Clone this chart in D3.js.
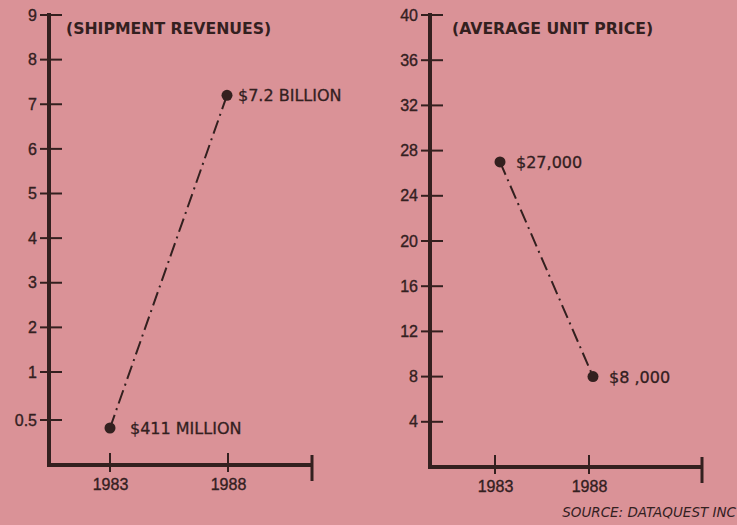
<!DOCTYPE html>
<html>
<head>
<meta charset="utf-8">
<script src="https://cdn.jsdelivr.net/npm/d3@7"></script>
<style>
  html, body { margin: 0; padding: 0; background: #da9297; }
  svg { display: block; }
  text { font-family: "DejaVu Sans", "Liberation Sans", Arial, sans-serif; fill: #33201f; }
</style>
</head>
<body>
<svg id="chart" width="737" height="525"></svg>
<script>
// Shipment revenues (billions of dollars) and average unit price (thousands of dollars)
const years = [1983, 1988];
const revenues = [0.411, 7.2];
const revenueLabels = ["$411 MILLION", "$7.2 BILLION"];
const prices = [27, 8];
const priceLabels = ["$27,000", "$8 ,000"];
const revenueTicks = [0.5, 1, 2, 3, 4, 5, 6, 7, 8, 9];
const priceTicks = [4, 8, 12, 16, 20, 24, 28, 32, 36, 40];

const ink = "#33201f";
const svg = d3.select("#chart");

function styleTickText(sel, size) {
  sel.style("font-size", size + "px")
    .style("font-family", "'Liberation Sans', Arial, sans-serif")
    .attr("fill", ink).attr("stroke", ink).attr("stroke-width", 0.35);
}

function panel(opts) {
  const g = svg.append("g");
  const x = d3.scaleLinear().domain(years).range(opts.xYears);
  const y = opts.y;

  // Vertical axis
  const yAxis = d3.axisLeft(y).tickValues(opts.ticks).tickSize(0).tickPadding(12)
    .tickFormat(d => String(d));
  const ya = g.append("g").attr("transform", `translate(${opts.x0},0)`).call(yAxis);
  ya.select(".domain").remove();
  styleTickText(ya.selectAll("text"), 16);
  g.append("line").attr("x1", opts.x0).attr("x2", opts.x0)
    .attr("y1", opts.yTop).attr("y2", opts.yBase + 2)
    .attr("stroke", ink).attr("stroke-width", 4);
  g.selectAll("line.ytick").data(opts.ticks).join("line").attr("class", "ytick")
    .attr("x1", opts.x0 - 9).attr("x2", opts.x0 + 13)
    .attr("y1", d => y(d)).attr("y2", d => y(d))
    .attr("stroke", ink).attr("stroke-width", 2);

  // Horizontal axis
  const xAxis = d3.axisBottom(x).tickValues(years).tickSize(0).tickPadding(14)
    .tickFormat(d3.format("d"));
  const xa = g.append("g").attr("transform", `translate(0,${opts.yBase})`).call(xAxis);
  xa.select(".domain").remove();
  styleTickText(xa.selectAll("text"), 16);
  g.append("line").attr("x1", opts.x0 - 2).attr("x2", opts.x1)
    .attr("y1", opts.yBase).attr("y2", opts.yBase)
    .attr("stroke", ink).attr("stroke-width", 4);
  g.selectAll("line.xtick").data(years).join("line").attr("class", "xtick")
    .attr("x1", d => x(d)).attr("x2", d => x(d))
    .attr("y1", opts.yBase - 12).attr("y2", opts.yBase + 7)
    .attr("stroke", ink).attr("stroke-width", 2);
  g.append("line").attr("x1", opts.x1).attr("x2", opts.x1)
    .attr("y1", opts.yBase - 10).attr("y2", opts.yBase + 16)
    .attr("stroke", ink).attr("stroke-width", 3);

  // Title
  g.append("text").attr("x", opts.titleX).attr("y", 34)
    .style("font-size", "15.7px").style("font-weight", "bold")
    .attr("fill", ink).text(opts.title);

  // Dash-dot connecting line
  const px = opts.xPoints || years.map(x);
  const pts = years.map((yr, i) => [px[i], y(opts.values[i])]);
  g.append("path").attr("d", d3.line()(pts))
    .attr("fill", "none").attr("stroke", ink).attr("stroke-width", 2)
    .attr("stroke-dasharray", "14,5,2,5");

  g.selectAll("circle").data(pts).join("circle")
    .attr("cx", d => d[0]).attr("cy", d => d[1]).attr("r", 5.5).attr("fill", ink);

  g.selectAll("text.val").data(pts).join("text").attr("class", "val")
    .attr("x", (d, i) => d[0] + opts.labelGap[i]).attr("y", d => d[1] + 6)
    .style("font-size", "16px").attr("fill", ink)
    .attr("stroke", ink).attr("stroke-width", 0.3)
    .text((d, i) => opts.labels[i]);
}

// Revenue scale is broken below 1: 0.5 sits just above the baseline
const yRev = d3.scaleLinear().domain([0, 0.5, 1, 9]).range([465, 420, 372, 15]);
panel({
  x0: 49, x1: 312, yTop: 13, yBase: 465, y: yRev, ticks: revenueTicks,
  xYears: [110, 228], xPoints: [110, 227], labelGap: [20, 11],
  values: revenues, labels: revenueLabels,
  title: "(SHIPMENT REVENUES)", titleX: 66
});

const yPrice = d3.scaleLinear().domain([0, 40]).range([467, 15]);
panel({
  x0: 430, x1: 702, yTop: 13, yBase: 467, y: yPrice, ticks: priceTicks,
  xYears: [495, 589], xPoints: [500, 593], labelGap: [16, 16],
  values: prices, labels: priceLabels,
  title: "(AVERAGE UNIT PRICE)", titleX: 452
});

svg.append("text").attr("x", 736).attr("y", 517).attr("text-anchor", "end")
  .style("font-size", "13.5px").style("font-style", "italic").attr("fill", ink)
  .text("SOURCE: DATAQUEST INC");
</script>
</body>
</html>
